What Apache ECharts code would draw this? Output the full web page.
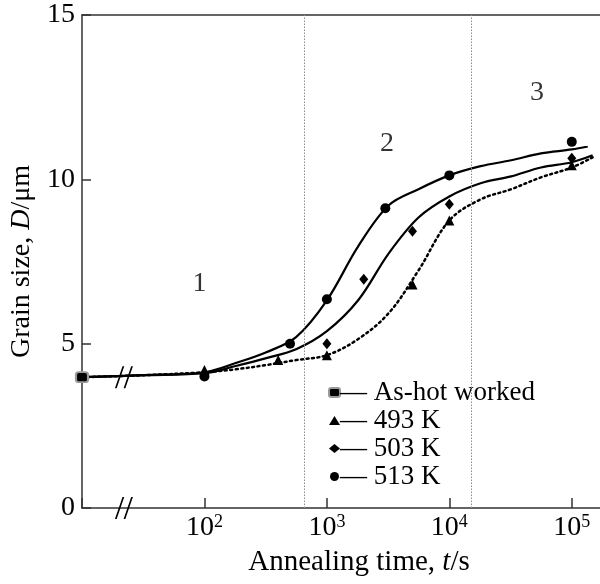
<!DOCTYPE html>
<html>
<head>
<meta charset="utf-8">
<script src="https://cdn.jsdelivr.net/npm/echarts@6/dist/echarts.min.js"></script>
<style>
  html, body { margin: 0; padding: 0; background: #fff; }
  #main { width: 600px; height: 584px; }
</style>
</head>
<body>
<div id="main"></div>
<script>
// measured points, [time s, grain size um]
const asHotPoint = [[10, 3.98]];
const k493Points = [[100, 4.2], [400, 4.5], [1000, 4.65], [5000, 6.8], [10000, 8.75], [100000, 10.43]];
const k503Points = [[100, 4.1], [1000, 5.0], [2000, 6.96], [5000, 8.42], [10000, 9.24], [100000, 10.64]];
const k513Points = [[100, 4.0], [500, 5.0], [1000, 6.35], [3000, 9.12], [10000, 10.12], [100000, 11.14]];

// fitted curves (every quarter decade)
const k493Curve = [[10, 3.98], [32, 4.04], [100, 4.13], [180, 4.22], [320, 4.35], [560, 4.5], [1000, 4.65],
  [1800, 5.14], [3200, 5.93], [5600, 7.23], [10000, 8.75], [18000, 9.39], [32000, 9.7], [56000, 10.06],
  [100000, 10.36], [148000, 10.67]];
const k503Curve = [[10, 3.98], [32, 4.04], [100, 4.1], [180, 4.32], [320, 4.56], [560, 4.83], [1000, 5.38],
  [1800, 6.32], [3200, 7.75], [5600, 8.84], [10000, 9.48], [18000, 9.88], [32000, 10.09], [56000, 10.36],
  [100000, 10.52], [148000, 10.73]];
const k513Curve = [[10, 3.98], [32, 4.04], [100, 4.13], [180, 4.41], [320, 4.74], [560, 5.2], [1000, 6.32],
  [1800, 7.96], [3200, 9.21], [5600, 9.7], [10000, 10.12], [18000, 10.4], [32000, 10.58], [56000, 10.79],
  [100000, 10.91], [135000, 11.0]];

const stageBounds = [650, 15000];
const stageNames = ['1', '2', '3'];
const stagePos = [[91, 6.84], [3090, 11.1], [52000, 12.64]];
const breakPos = [[22, 0], [22, 3.98]];

const FONT = 'Liberation Serif';
const INK = '#000';

const chart = echarts.init(document.getElementById('main'));

const markerBase = { type: 'scatter', z: 5, itemStyle: { color: INK, opacity: 1 } };

chart.setOption({
  animation: false,
  textStyle: { fontFamily: FONT, color: INK },
  grid: { left: 81, right: 0, top: 15, bottom: 76 },
  legend: {
    data: ['As-hot worked', '493 K', '503 K', '513 K'],
    orient: 'vertical',
    left: 323,
    top: 374,
    itemWidth: 11,
    itemHeight: 9,
    itemGap: 1,
    formatter: name => '— ' + name,
    textStyle: { fontFamily: FONT, fontSize: 27, color: INK, padding: [0, 0, 0, -5] }
  },
  xAxis: [{
    type: 'log',
    logBase: 10,
    min: 10,
    max: 170000,
    name: 'Annealing time, {i|t}/s',
    nameLocation: 'middle',
    nameGap: 40,
    nameTextStyle: {
      fontFamily: FONT, fontSize: 29, color: INK, padding: [0, 0, 0, 36],
      rich: { i: { fontStyle: 'italic', fontFamily: FONT, fontSize: 29, color: INK } }
    },
    axisLine: { lineStyle: { color: '#333', width: 1.5 } },
    axisTick: { inside: true, length: 10, lineStyle: { color: '#333', width: 1.5 } },
    minorTick: { show: false },
    splitLine: { show: false },
    axisLabel: {
      margin: 5,
      formatter: v => {
        const n = Math.round(Math.log10(v));
        return n < 2 ? '' : '{b|10}{s|' + n + '}';
      },
      rich: {
        b: { fontFamily: FONT, fontSize: 28, color: INK },
        s: { fontFamily: FONT, fontSize: 18, color: INK, padding: [0, 0, 12, 0] }
      }
    }
  }, {
    type: 'log',
    logBase: 10,
    min: 10,
    max: 170000,
    position: 'top',
    axisLine: { lineStyle: { color: '#333', width: 1.5 } },
    axisTick: { show: false },
    axisLabel: { show: false },
    splitLine: { show: false }
  }],
  yAxis: {
    type: 'value',
    min: 0,
    max: 15,
    interval: 5,
    name: 'Grain size, {i|D}/μm',
    nameLocation: 'middle',
    nameGap: 46,
    nameTextStyle: {
      fontFamily: FONT, fontSize: 28, color: INK,
      rich: { i: { fontStyle: 'italic', fontFamily: FONT, fontSize: 28, color: INK } }
    },
    axisLine: { lineStyle: { color: '#333', width: 1.5 } },
    axisTick: { inside: true, length: 9, lineStyle: { color: '#333', width: 1.5 } },
    splitLine: { show: false },
    axisLabel: { margin: 7, fontFamily: FONT, fontSize: 28, color: INK }
  },
  series: [
    {
      type: 'line', data: k493Curve, symbol: 'none', smooth: 0.35,
      lineStyle: { color: INK, width: 2.5, type: [2, 3.5], cap: 'round' },
      markLine: {
        silent: true, symbol: 'none', label: { show: false },
        lineStyle: { color: '#8a8a8a', width: 1, type: [1.5, 1.5] },
        data: stageBounds.map(t => ({ xAxis: t }))
      }
    },
    { type: 'line', data: k503Curve, symbol: 'none', smooth: 0.35, lineStyle: { color: INK, width: 2.2 } },
    { type: 'line', data: k513Curve, symbol: 'none', smooth: 0.35, lineStyle: { color: INK, width: 2.2 } },
    Object.assign({}, markerBase, {
      name: 'As-hot worked', data: asHotPoint, symbol: 'roundRect', symbolSize: [12, 10],
      itemStyle: { color: INK, opacity: 1, borderColor: '#999', borderWidth: 2 }
    }),
    Object.assign({}, markerBase, { name: '493 K', data: k493Points, symbol: 'triangle', symbolSize: 10 }),
    Object.assign({}, markerBase, { name: '503 K', data: k503Points, symbol: 'diamond', symbolSize: [9, 11] }),
    Object.assign({}, markerBase, { name: '513 K', data: k513Points, symbol: 'circle', symbolSize: 10 }),
    {
      type: 'scatter', silent: true, z: 6,
      data: breakPos,
      symbol: 'path://M0,22 L7,0 L8.6,0 L1.6,22 Z M8,22 L15,0 L16.6,0 L9.6,22 Z',
      symbolSize: [18, 22],
      itemStyle: { color: INK, opacity: 1 }
    },
    {
      type: 'scatter', silent: true, symbolSize: 0,
      data: stagePos.map((p, i) => ({ value: p, name: stageNames[i] })),
      label: { show: true, position: 'inside', formatter: p => p.name, fontFamily: FONT, fontSize: 28, color: INK }
    }
  ]
});
</script>
</body>
</html>
